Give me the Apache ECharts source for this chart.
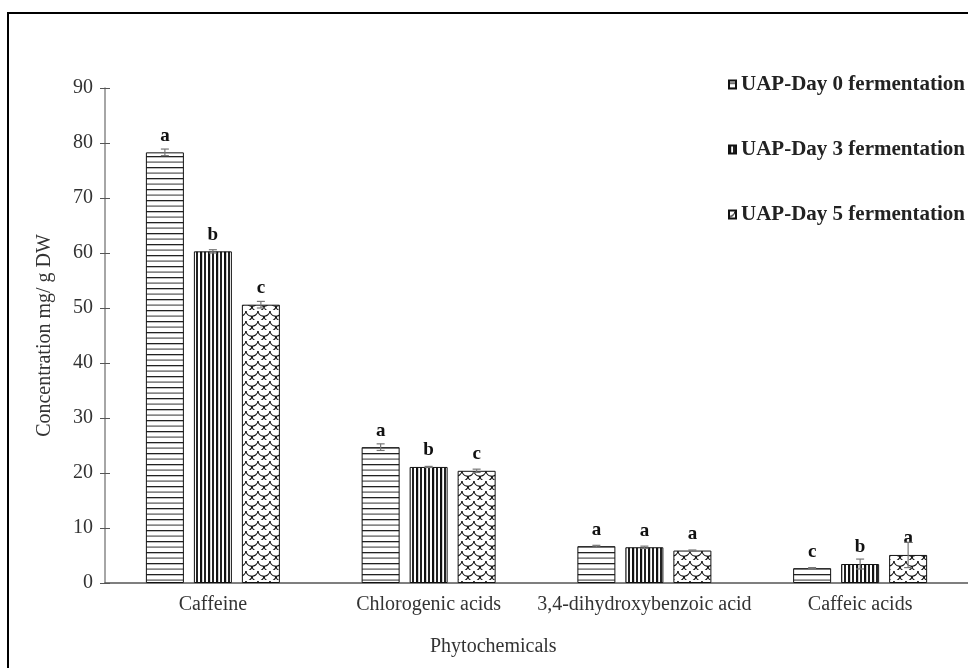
<!DOCTYPE html>
<html>
<head>
<meta charset="utf-8">
<script src="https://cdn.jsdelivr.net/npm/echarts@6/dist/echarts.min.js"></script>
<style>
  html, body { margin: 0; padding: 0; background: #fff; }
  #chart { width: 968px; height: 668px; }
</style>
</head>
<body>
<div id="chart"></div>
<script>
// data
const categories = ['Caffeine', 'Chlorogenic acids', '3,4-dihydroxybenzoic acid', 'Caffeic acids'];
const seriesNames = ['UAP-Day 0 fermentation', 'UAP-Day 3 fermentation', 'UAP-Day 5 fermentation'];
const day0 = [78.3, 24.7, 6.7, 2.7];
const day3 = [60.3, 21.1, 6.5, 3.45];
const day5 = [50.6, 20.4, 5.9, 5.1];
const err0 = [0.6, 0.6, 0.15, 0.1];
const err3 = [0.3, 0.1, 0.2, 0.9];
const err5 = [0.6, 0.3, 0.1, 2.3];
const letters0 = ['a', 'a', 'a', 'c'];
const letters3 = ['b', 'b', 'a', 'b'];
const letters5 = ['c', 'c', 'a', 'a'];

const serif = 'Liberation Serif, Times New Roman, serif';

// hatch patterns for the bars
function hLines() {
    const c = document.createElement('canvas');
    c.width = 8; c.height = 11;
    const g = c.getContext('2d');
    g.fillStyle = '#fff'; g.fillRect(0, 0, 8, 11);
    g.fillStyle = '#222'; g.fillRect(0, 2, 8, 1.3);
    g.fillStyle = '#555'; g.fillRect(0, 7.5, 8, 1.2);
    return c;
}
function vLines() {
    const c = document.createElement('canvas');
    c.width = 8; c.height = 8;
    const g = c.getContext('2d');
    g.fillStyle = '#fff'; g.fillRect(0, 0, 8, 8);
    g.fillStyle = '#111'; g.fillRect(0, 0, 2.2, 8);
    g.fillStyle = '#222'; g.fillRect(4, 0, 2, 8);
    return c;
}
function scales() {
    const c = document.createElement('canvas');
    c.width = 12; c.height = 10;
    const g = c.getContext('2d');
    g.fillStyle = '#fff'; g.fillRect(0, 0, 12, 10);
    g.strokeStyle = '#111'; g.lineWidth = 1.1;
    // overlapping scallops, offset every other row
    const cs = [[0, 0], [12, 0], [6, 5], [0, 10], [12, 10], [-6, 5], [18, 5]];
    cs.forEach(([x, y]) => {
        g.beginPath();
        g.arc(x, y, 6.2, 0.05 * Math.PI, 0.95 * Math.PI);
        g.stroke();
    });
    return c;
}
const patterns = [hLines(), vLines(), scales()];
const values = [day0, day3, day5];
const errors = [err0, err3, err5];
const letters = [letters0, letters3, letters5];

const barWidth = 38, barGapPx = 10;

const chart = echarts.init(document.getElementById('chart'));

const barSeries = seriesNames.map((name, i) => ({
    name: name,
    type: 'bar',
    data: values[i],
    barWidth: barWidth,
    barGap: (barGapPx / barWidth * 100) + '%',
    itemStyle: {
        color: { image: patterns[i], repeat: 'repeat' },
        borderColor: '#111',
        borderWidth: 1
    },
    label: {
        show: true,
        position: 'top',
        distance: 7,
        formatter: p => letters[i][p.dataIndex],
        fontFamily: serif,
        fontWeight: 'bold',
        fontSize: 19,
        color: '#111'
    }
}));

const errSeries = {
    type: 'custom',
    name: 'err',
    silent: true,
    z: 5,
    data: categories.map((c, k) => k),
    renderItem: function (params, api) {
        const k = api.value(0);
        const kids = [];
        for (let i = 0; i < 3; i++) {
            const v = values[i][k], e = errors[i][k];
            const top = api.coord([k, v + e]);
            const bot = api.coord([k, v - e]);
            const x = top[0] + (i - 1) * (barWidth + barGapPx);
            const st = { stroke: '#777', lineWidth: 1.2 };
            kids.push({ type: 'line', shape: { x1: x, y1: top[1], x2: x, y2: bot[1] }, style: st });
            kids.push({ type: 'line', shape: { x1: x - 4, y1: top[1], x2: x + 4, y2: top[1] }, style: st });
            kids.push({ type: 'line', shape: { x1: x - 4, y1: bot[1], x2: x + 4, y2: bot[1] }, style: st });
        }
        return { type: 'group', children: kids };
    }
};

const yBase = { type: 'value', min: 0, max: 90, interval: 10, splitLine: { show: false } };

chart.setOption({
    backgroundColor: '#fff',
    animation: false,
    grid: { left: 105, right: -3, top: 88, bottom: 85 },
    legend: {
        data: seriesNames,
        orient: 'vertical',
        left: 723,
        top: 69,
        icon: 'rect',
        itemWidth: 7,
        itemHeight: 8,
        itemGap: 44,
        selectedMode: false,
        textStyle: { fontFamily: serif, fontWeight: 'bold', fontSize: 21, color: '#222' }
    },
    xAxis: {
        type: 'category',
        data: categories,
        axisLine: { lineStyle: { color: '#555', width: 1.5 } },
        axisTick: { alignWithLabel: true, length: 5, lineStyle: { color: '#555' } },
        axisLabel: { interval: 0, fontFamily: serif, fontSize: 20, color: '#333', margin: 12 }
    },
    yAxis: [
        Object.assign({}, yBase, {
            name: 'Concentration mg/ g DW',
            nameLocation: 'middle',
            nameGap: 50,
            nameTextStyle: { fontFamily: serif, fontSize: 20, color: '#333' },
            axisLine: { show: true, onZero: false, lineStyle: { color: '#888', width: 1.5 } },
            axisTick: { show: true, length: 5, lineStyle: { color: '#555' } },
            axisLabel: { fontFamily: serif, fontSize: 20, color: '#333', margin: 12 }
        }),
        Object.assign({}, yBase, {
            position: 'left',
            offset: 0,
            axisLine: { show: false, onZero: false },
            axisTick: { show: true, inside: true, length: 5, lineStyle: { color: '#555' } },
            axisLabel: { show: false }
        })
    ],
    graphic: [
        {
            type: 'rect',
            shape: { x: 8, y: 13, width: 1000, height: 1000 },
            style: { fill: 'none', stroke: '#000', lineWidth: 2 },
            silent: true
        },
        {
            type: 'text',
            left: 430,
            top: 637,
            style: { text: 'Phytochemicals', font: '20px ' + serif, fill: '#333' }
        }
    ],
    series: barSeries.concat([errSeries])
});
</script>
</body>
</html>
